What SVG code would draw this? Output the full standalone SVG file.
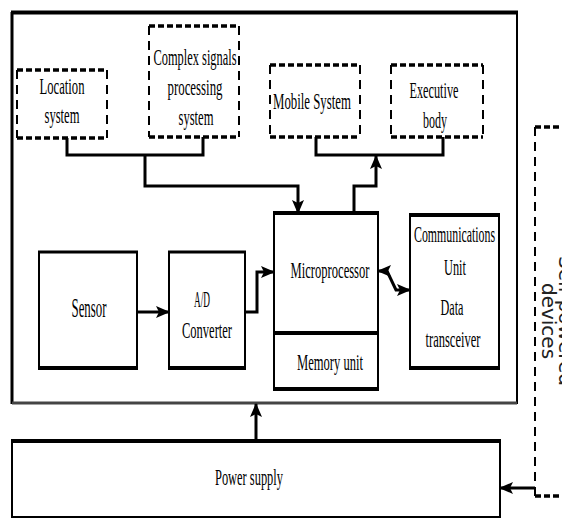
<svg xmlns="http://www.w3.org/2000/svg" width="562" height="519" viewBox="0 0 562 519">
<style>
.t{font-family:"Liberation Serif","Times New Roman",serif;font-size:24px;fill:#000;text-anchor:middle}
.s{font-family:"DejaVu Sans",sans-serif;font-size:20px;fill:#222;text-anchor:middle}
.box{fill:#fff;stroke:#000;stroke-width:2}
.thk{stroke:#000;stroke-width:4;fill:none}
.dh{stroke:#000;stroke-width:3.5;stroke-dasharray:6 3;fill:none}
.dv{stroke:#000;stroke-width:2;stroke-dasharray:9 6;fill:none}
.c{stroke:#000;stroke-width:3;fill:none}
.ca{stroke:#000;stroke-width:3;fill:none;marker-end:url(#ah)}
</style>
<defs>
<marker id="ah" viewBox="0 0 14 12" refX="13" refY="6" markerWidth="14" markerHeight="12" markerUnits="userSpaceOnUse" orient="auto-start-reverse">
<path d="M0,0 L14,6 L0,12 L3,6 z" fill="#000"/>
</marker>
</defs>
<rect width="562" height="519" fill="#fff"/>

<g id="outer-frame">
<rect x="12" y="12" width="505" height="391" fill="none" stroke="#000" stroke-width="2"/>
<line x1="11" y1="12.5" x2="518" y2="12.5" class="thk"/>
<line x1="12" y1="12" x2="12" y2="404" stroke="#000" stroke-width="3"/>
<line x1="12" y1="403" x2="517" y2="403" stroke="#444" stroke-width="3"/>
</g>

<g id="location-system">
<line x1="17" y1="70" x2="107" y2="70" class="dh"/>
<line x1="17" y1="138" x2="107" y2="138" class="dh"/>
<line x1="17" y1="70" x2="17" y2="138" class="dv"/>
<line x1="107" y1="70" x2="107" y2="138" class="dv"/>
<text class="t" x="62" y="94" textLength="45" lengthAdjust="spacingAndGlyphs">Location</text>
<text class="t" x="62" y="123" textLength="35" lengthAdjust="spacingAndGlyphs">system</text>
</g>

<g id="complex-signals">
<line x1="149" y1="26" x2="239" y2="26" class="dh"/>
<line x1="149" y1="137" x2="239" y2="137" class="dh"/>
<line x1="149" y1="26" x2="149" y2="137" class="dv"/>
<line x1="239" y1="26" x2="239" y2="137" class="dv"/>
<text class="t" x="195" y="65" textLength="83" lengthAdjust="spacingAndGlyphs">Complex signals</text>
<text class="t" x="195" y="95" textLength="55" lengthAdjust="spacingAndGlyphs">processing</text>
<text class="t" x="196" y="125" textLength="35" lengthAdjust="spacingAndGlyphs">system</text>
</g>

<g id="mobile-system">
<line x1="270" y1="65" x2="360" y2="65" class="dh"/>
<line x1="270" y1="137" x2="360" y2="137" class="dh"/>
<line x1="270" y1="65" x2="270" y2="137" class="dv"/>
<line x1="360" y1="65" x2="360" y2="137" class="dv"/>
<text class="t" x="312" y="109" textLength="78" lengthAdjust="spacingAndGlyphs">Mobile System</text>
</g>

<g id="executive-body">
<line x1="391" y1="65" x2="483" y2="65" class="dh"/>
<line x1="391" y1="137" x2="483" y2="137" class="dh"/>
<line x1="391" y1="65" x2="391" y2="137" class="dv"/>
<line x1="483" y1="65" x2="483" y2="137" class="dv"/>
<text class="t" x="434" y="98" textLength="49" lengthAdjust="spacingAndGlyphs">Executive</text>
<text class="t" x="435" y="128" textLength="24" lengthAdjust="spacingAndGlyphs">body</text>
</g>

<g id="sensor">
<rect class="box" x="39" y="252" width="98" height="116"/>
<line x1="38" y1="252" x2="138" y2="252" stroke="#000" stroke-width="3"/>
<line x1="38" y1="368" x2="138" y2="368" class="thk"/>
<text class="t" x="89" y="317" textLength="35" lengthAdjust="spacingAndGlyphs" style="font-size:27px">Sensor</text>
</g>

<g id="ad-converter">
<rect class="box" x="169" y="252" width="76" height="116"/>
<line x1="168" y1="252" x2="246" y2="252" stroke="#000" stroke-width="3"/>
<line x1="168" y1="368" x2="246" y2="368" class="thk"/>
<text class="t" x="202" y="307" textLength="16" lengthAdjust="spacingAndGlyphs">A/D</text>
<text class="t" x="207" y="338" textLength="50" lengthAdjust="spacingAndGlyphs">Converter</text>
</g>

<g id="microprocessor">
<rect class="box" x="274" y="213" width="104" height="176"/>
<line x1="273" y1="213" x2="379" y2="213" class="thk"/>
<line x1="274" y1="333" x2="378" y2="333" class="thk"/>
<line x1="273" y1="389" x2="379" y2="389" class="thk"/>
<text class="t" x="330" y="278" textLength="79" lengthAdjust="spacingAndGlyphs">Microprocessor</text>
<text class="t" x="330" y="370" textLength="66" lengthAdjust="spacingAndGlyphs">Memory unit</text>
</g>

<g id="communications-unit">
<rect class="box" x="410" y="215" width="89" height="153"/>
<line x1="409" y1="215" x2="500" y2="215" class="thk"/>
<line x1="409" y1="368" x2="500" y2="368" class="thk"/>
<text class="t" x="454.5" y="242" textLength="81" lengthAdjust="spacingAndGlyphs">Communications</text>
<text class="t" x="455" y="275" textLength="22" lengthAdjust="spacingAndGlyphs">Unit</text>
<text class="t" x="452" y="315" textLength="23" lengthAdjust="spacingAndGlyphs">Data</text>
<text class="t" x="453" y="347" textLength="55" lengthAdjust="spacingAndGlyphs">transceiver</text>
</g>

<g id="power-supply">
<rect class="box" x="12" y="441" width="488" height="76"/>
<line x1="11" y1="441" x2="501" y2="441" class="thk"/>
<text class="t" x="249" y="485" textLength="68" lengthAdjust="spacingAndGlyphs">Power supply</text>
</g>

<g id="self-powered-devices">
<line x1="535" y1="127" x2="562" y2="127" class="dh"/>
<line x1="535" y1="496" x2="562" y2="496" class="dh"/>
<line x1="535" y1="127" x2="535" y2="496" class="dv"/>
<text class="s" transform="translate(559,321) rotate(90)">Self-powered</text>
<text class="s" transform="translate(542,321) rotate(90)">devices</text>
</g>

<g id="connectors">
<path class="c" d="M67 138 V155 H203 V137"/>
<path class="ca" d="M145 155 V186 H298 V213"/>
<path class="c" d="M316 137 V155 H443 V137"/>
<path class="ca" d="M354 212 V186 H376 V156"/>
<path class="ca" d="M137 312 H169"/>
<path class="ca" d="M245 312 H257 V272 H274"/>
<path class="ca" d="M378 271 H387 L396 290 H410" style="marker-start:url(#ah)"/>
<path class="ca" d="M256 441 V404"/>
<path class="ca" stroke-width="2" d="M535 488 H500"/>
</g>
</svg>
